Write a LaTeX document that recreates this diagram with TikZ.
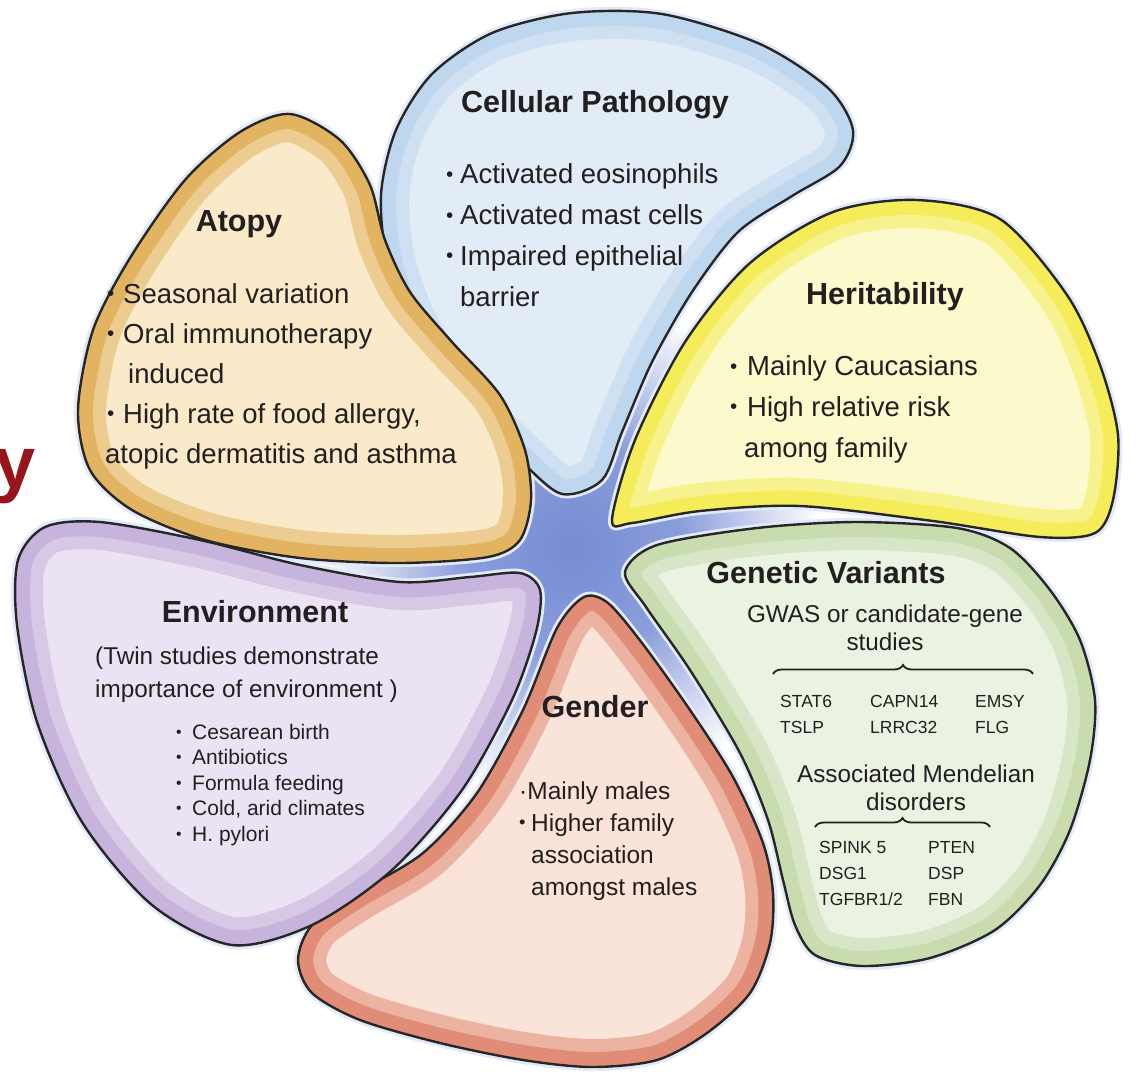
\documentclass[tikz,border=0pt]{standalone}
\usepackage{fontspec}
\setmainfont{Liberation Sans}
\usepackage{xcolor}
\definecolor{ink}{RGB}{35,31,32}
\definecolor{titlered}{RGB}{150,22,28}
\definecolor{centre}{RGB}{118,140,212}
\definecolor{rim}{RGB}{226,233,248}
\definecolor{cellband}{RGB}{190,214,238}
\definecolor{cellfill}{RGB}{226,236,247}
\definecolor{atoband}{RGB}{226,180,98}
\definecolor{atofill}{RGB}{250,234,202}
\definecolor{herband}{RGB}{245,236,90}
\definecolor{herfill}{RGB}{252,249,205}
\definecolor{genband}{RGB}{200,220,175}
\definecolor{genfill}{RGB}{234,242,225}
\definecolor{gndband}{RGB}{224,140,118}
\definecolor{gndfill}{RGB}{250,227,216}
\definecolor{envband}{RGB}{198,180,220}
\definecolor{envfill}{RGB}{235,227,243}
\usepackage{tikz}
\usetikzlibrary{decorations.pathreplacing}
\newcommand{\bul}[1][14pt]{\makebox[#1][l]{\raisebox{0.09em}{\scalebox{0.75}{\textbullet}}}}
\pgfdeclareradialshading{centreglow}{\pgfpoint{0bp}{0bp}}{%
  color(0bp)=(centre); color(11bp)=(centre!85!white);
  color(25bp)=(white); color(50bp)=(white)}

% petal outlines
\newcommand{\cellpath}{plot[smooth cycle] coordinates {(562,494) (522,462) (465,405) (415,335) (388,265) (381,195) (396,130) (432,74) (492,33) (572,13) (662,14) (760,44) (828,88) (853,130) (840,166) (792,196) (738,232) (692,292) (652,362) (622,432) (602,480)}}
\newcommand{\atopath}{plot[smooth cycle] coordinates {(290,114) (340,140) (370,185) (385,240) (410,292) (452,342) (500,395) (525,450) (531,500) (520,540) (488,557) (400,563) (300,558) (205,540) (132,510) (90,470) (78,410) (93,330) (130,258) (185,180) (240,132)}}
\newcommand{\herpath}{plot[smooth cycle] coordinates {(612,520) (635,440) (685,342) (750,263) (833,212) (917,200) (1000,219) (1067,295) (1100,365) (1118,435) (1113,500) (1095,533) (1040,537) (933,521) (800,506) (700,511) (632,523)}}
\newcommand{\genpath}{plot[smooth cycle] coordinates {(625,572) (657,545) (757,528) (857,522) (957,528) (1010,548) (1050,590) (1080,640) (1095,700) (1090,760) (1070,830) (1040,885) (995,930) (930,958) (862,966) (815,955) (795,925) (783,880) (768,820) (740,753) (690,670) (646,607)}}
\newcommand{\gndpath}{plot[smooth cycle] coordinates {(584,597) (557,628) (523,710) (477,793) (423,853) (357,893) (312,925) (298,960) (312,993) (360,1020) (440,1043) (523,1060) (592,1067) (657,1060) (707,1033) (750,993) (770,943) (773,893) (763,843) (733,777) (690,710) (642,643) (608,603)}}
\newcommand{\envpath}{plot[smooth cycle] coordinates {(18,560) (45,527) (100,522) (200,540) (300,565) (400,582) (470,577) (520,573) (540,590) (536,632) (512,700) (462,790) (392,870) (312,925) (232,945) (152,905) (82,822) (37,722) (17,625)}}

% one petal: light inside, coloured band along the edge, dark outline
\newcommand{\petal}[3]{%
  \begin{scope}
    \clip #1;
    \fill[#3] #1;
    \draw[#2!55!#3, line width=56pt] #1;
    \draw[#2, line width=30pt] #1;
  \end{scope}
  \draw[petal line] #1;}

\begin{document}
\begin{tikzpicture}[x=1pt, y=-1pt,
    petal line/.style={draw=black!85, line width=2.4pt},
    petal rim/.style={draw=rim, line width=8pt},
    title/.style={font=\fontsize{30.5}{36}\selectfont\bfseries, text=ink,
                  inner sep=0pt, anchor=base},
    body/.style={font=\fontsize{27.5}{40.7}\selectfont, text=ink,
                 inner sep=0pt, align=left, anchor=base west},
    sub/.style={font=\fontsize{24.3}{28}\selectfont, text=ink,
                inner sep=0pt, align=center, anchor=base},
    gene/.style={font=\fontsize{17.5}{26}\selectfont, text=ink,
                 inner sep=0pt, align=left, anchor=base west},
    brace/.style={decorate, decoration={brace, amplitude=9pt},
                  draw=ink, line width=1.8pt}
  ]
  \useasboundingbox (0,0) rectangle (1145,1080);
  \fill[white] (0,0) rectangle (1145,1080);

  % blue centre
  \shade[shading=centreglow] (572,548) circle (250pt);

  \draw[petal rim] \cellpath;
  \draw[petal rim] \atopath;
  \draw[petal rim] \herpath;
  \draw[petal rim] \genpath;
  \draw[petal rim] \gndpath;
  \draw[petal rim] \envpath;

  \petal{\cellpath}{cellband}{cellfill}
  \petal{\atopath}{atoband}{atofill}
  \petal{\herpath}{herband}{herfill}
  \petal{\genpath}{genband}{genfill}
  \petal{\gndpath}{gndband}{gndfill}
  \petal{\envpath}{envband}{envfill}

  % cut-off title letter
  \node[anchor=base west, inner sep=0pt, text=titlered,
        font=\fontsize{74}{80}\selectfont\bfseries] (cut) at (-6,488) {y};

  % Cellular Pathology (multi-line nodes sit on their last baseline)
  \node[title] (cell) at (595,112) {Cellular Pathology};
  \node[body] (celltxt) at (446,306)
    {\bul Activated eosinophils\\ \bul Activated mast cells\\
     \bul Impaired epithelial\\ \hspace*{14pt}barrier};

  % Atopy
  \node[title] (atopy) at (239,231) {Atopy};
  \node[body, font=\fontsize{27.5}{40}\selectfont] (atotxt) at (105,463)
    {\hspace*{2pt}\bul[16pt]Seasonal variation\\ \hspace*{2pt}\bul[16pt]Oral immunotherapy\\
     \hspace*{23pt}induced\\ \hspace*{2pt}\bul[16pt]High rate of food allergy,\\
     atopic dermatitis and asthma};

  % Heritability
  \node[title] (herit) at (885,304) {Heritability};
  \node[body] (hertxt) at (730,457)
    {\bul[17pt]Mainly Caucasians\\ \bul[17pt]High relative risk\\
     \hspace*{14pt}among family};

  % Genetic Variants
  \node[title] (genvar) at (826,583) {Genetic Variants};
  \node[sub] (gwas) at (885,650) {GWAS or candidate-gene\\studies};
  \coordinate (gwasL) at (773,674);
  \coordinate (gwasR) at (1033,674);
  \draw[brace] (gwasL) -- (gwasR);
  \node[gene] (gwasA) at (780,733) {STAT6\\TSLP};
  \node[gene] (gwasB) at (870,733) {CAPN14\\LRRC32};
  \node[gene] (gwasC) at (975,733) {EMSY\\FLG};
  \node[sub] (mendel) at (916,810) {Associated Mendelian\\disorders};
  \coordinate (mendelL) at (815,827);
  \coordinate (mendelR) at (990,827);
  \draw[brace] (mendelL) -- (mendelR);
  \node[gene] (mendelA) at (819,905) {SPINK 5\\DSG1\\TGFBR1/2};
  \node[gene] (mendelB) at (928,905) {PTEN\\DSP\\FBN};

  % Environment
  \node[title] (env) at (255,622) {Environment};
  \node[body, font=\fontsize{24.3}{33}\selectfont] (twin) at (95,697)
    {(Twin studies demonstrate\\importance of environment )};
  \node[body, font=\fontsize{21}{25.5}\selectfont] (envtxt) at (176,841)
    {\bul[16pt]Cesarean birth\\ \bul[16pt]Antibiotics\\ \bul[16pt]Formula feeding\\
     \bul[16pt]Cold, arid climates\\ \bul[16pt]H. pylori};

  % Gender
  \node[title] (gender) at (595,717) {Gender};
  \node[body, font=\fontsize{24.5}{32}\selectfont] (gndtxt) at (519,895)
    {\textperiodcentered Mainly males\\ \bul[12pt]Higher family\\
     \hspace*{12pt}association\\ \hspace*{12pt}amongst males};
\end{tikzpicture}
\end{document}
